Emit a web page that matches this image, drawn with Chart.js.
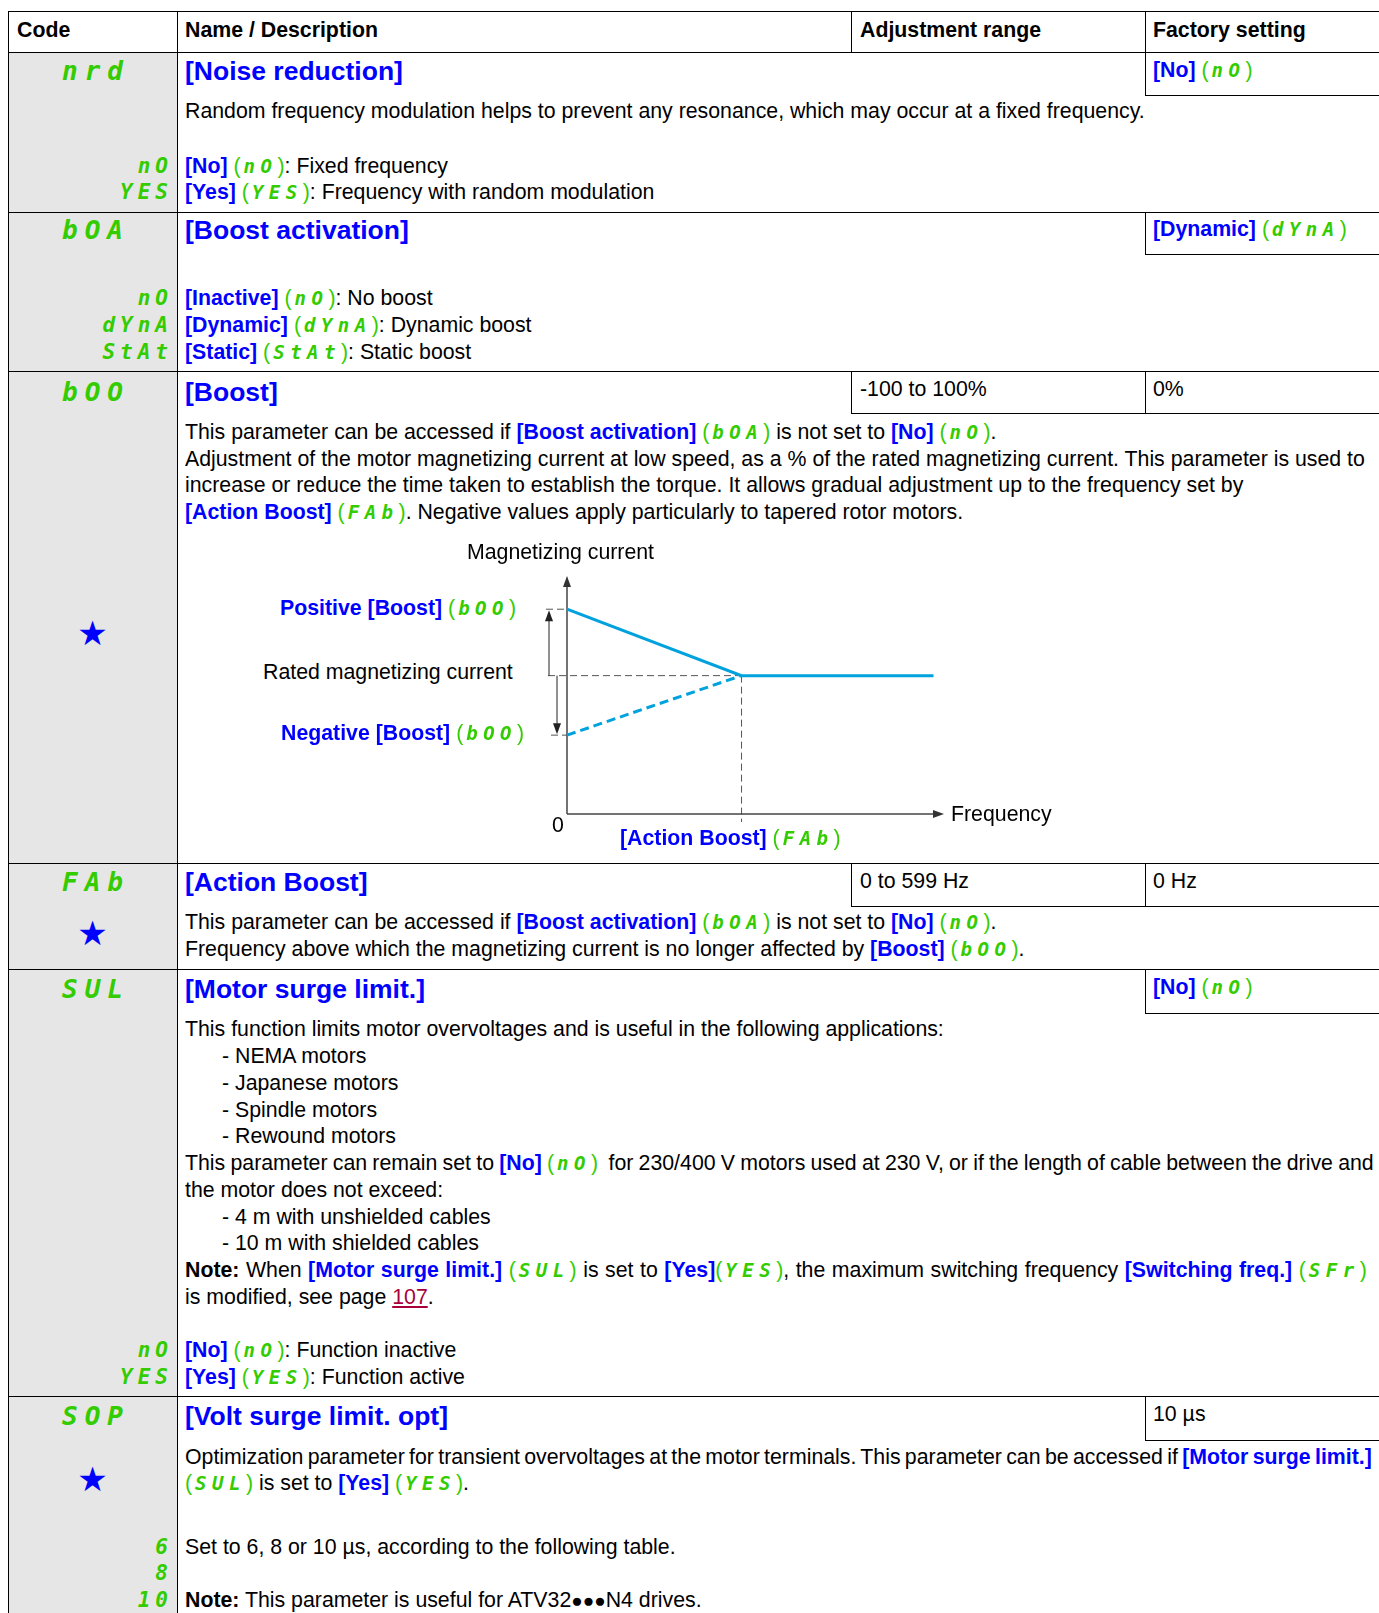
<!DOCTYPE html>
<html>
<head>
<meta charset="utf-8">
<title>Boost parameters</title>
<script src="https://cdn.jsdelivr.net/npm/chart.js@4.4.1/dist/chart.umd.min.js"></script>
<style>
body { margin: 0; background: #fff; }
#page { position: relative; width: 1379px; height: 1613px; overflow: hidden;
  font-family: "Liberation Sans", Arial, sans-serif; font-size: 21.3px; color: #000; }
.gray { position: absolute; left: 8px; top: 52px; width: 169px; height: 1561px; background: #e6e6e6; }
.h { position: absolute; height: 1px; background: #000; }
.v { position: absolute; width: 1px; background: #000; }
.t { position: absolute; white-space: nowrap; line-height: 26px; }
.hd { position: absolute; left: 185px; white-space: nowrap; line-height: 30px; font-size: 26.5px; font-weight: bold; color: #00f; }
.th { font-weight: bold; }
.b { color: #00f; font-weight: bold; }
.g { color: #33cc00; }
.g i, .code, .sub { font-family: "DejaVu Sans Mono", monospace; font-style: oblique; font-weight: bold; }
.g i { font-size: 19px; letter-spacing: 5.5px; padding-left: 3px; }
.code { position: absolute; left: 8px; width: 169px; text-align: center; color: #33cc00; font-size: 26px; line-height: 30px; letter-spacing: 7px; text-indent: 7px; }
.sub { position: absolute; left: 8px; width: 165px; text-align: right; color: #33cc00; font-size: 21px; line-height: 26px; letter-spacing: 5px; }
.star { position: absolute; left: 8px; width: 169px; text-align: center; color: #00f; font-family: "DejaVu Sans", sans-serif; font-size: 34px; line-height: 34px; }
.lnk { color: #a8003c; text-decoration: underline; }
.dots { font-size: 19px; }
#chartBox { position: absolute; left: 520px; top: 560px; width: 460px; height: 270px; }
</style>
</head>
<body>
<div id="page">
  <div class="gray"></div>

  <!-- table lines -->
  <div class="h" style="left:8px;top:11px;width:1371px"></div>
  <div class="h" style="left:8px;top:52px;width:1371px"></div>
  <div class="h" style="left:8px;top:212px;width:1371px"></div>
  <div class="h" style="left:8px;top:371px;width:1371px"></div>
  <div class="h" style="left:8px;top:863px;width:1371px"></div>
  <div class="h" style="left:8px;top:969px;width:1371px"></div>
  <div class="h" style="left:8px;top:1396px;width:1371px"></div>
  <div class="v" style="left:8px;top:11px;height:1602px"></div>
  <div class="v" style="left:177px;top:11px;height:1602px"></div>
  <div class="v" style="left:851px;top:11px;height:41px"></div>
  <div class="v" style="left:1145px;top:11px;height:41px"></div>
  <!-- value boxes -->
  <div class="v" style="left:1145px;top:52px;height:43px"></div>
  <div class="h" style="left:1145px;top:95px;width:234px"></div>
  <div class="v" style="left:1145px;top:212px;height:42px"></div>
  <div class="h" style="left:1145px;top:254px;width:234px"></div>
  <div class="v" style="left:851px;top:371px;height:42px"></div>
  <div class="v" style="left:1145px;top:371px;height:42px"></div>
  <div class="h" style="left:851px;top:413px;width:528px"></div>
  <div class="v" style="left:851px;top:863px;height:43px"></div>
  <div class="v" style="left:1145px;top:863px;height:43px"></div>
  <div class="h" style="left:851px;top:906px;width:528px"></div>
  <div class="v" style="left:1145px;top:969px;height:44px"></div>
  <div class="h" style="left:1145px;top:1013px;width:234px"></div>
  <div class="v" style="left:1145px;top:1396px;height:44px"></div>
  <div class="h" style="left:1145px;top:1440px;width:234px"></div>

  <!-- header -->
  <div class="t th" style="left:17px;top:17px">Code</div>
  <div class="t th" style="left:185px;top:17px">Name / Description</div>
  <div class="t th" style="left:860px;top:17px">Adjustment range</div>
  <div class="t th" style="left:1153px;top:17px">Factory setting</div>

  <!-- nrd -->
  <div class="code" style="top:56px">nrd</div>
  <div class="hd" style="top:56px">[Noise reduction]</div>
  <div class="t" style="left:1153px;top:57px"><span class="b">[No]</span> <span class="g">(<i>nO</i>)</span></div>
  <div class="t" style="left:185px;top:98px">Random frequency modulation helps to prevent any resonance, which may occur at a fixed frequency.</div>
  <div class="sub" style="top:153px">nO</div>
  <div class="t" style="left:185px;top:153px"><span class="b">[No]</span> <span class="g">(<i>nO</i>)</span>: Fixed frequency</div>
  <div class="sub" style="top:179px">YES</div>
  <div class="t" style="left:185px;top:179px"><span class="b">[Yes]</span> <span class="g">(<i>YES</i>)</span>: Frequency with random modulation</div>

  <!-- bOA -->
  <div class="code" style="top:215px">bOA</div>
  <div class="hd" style="top:215px">[Boost activation]</div>
  <div class="t" style="left:1153px;top:216px"><span class="b">[Dynamic]</span> <span class="g">(<i>dYnA</i>)</span></div>
  <div class="sub" style="top:285px">nO</div>
  <div class="t" style="left:185px;top:285px"><span class="b">[Inactive]</span> <span class="g">(<i>nO</i>)</span>: No boost</div>
  <div class="sub" style="top:312px">dYnA</div>
  <div class="t" style="left:185px;top:312px"><span class="b">[Dynamic]</span> <span class="g">(<i>dYnA</i>)</span>: Dynamic boost</div>
  <div class="sub" style="top:339px">StAt</div>
  <div class="t" style="left:185px;top:339px"><span class="b">[Static]</span> <span class="g">(<i>StAt</i>)</span>: Static boost</div>

  <!-- bOO -->
  <div class="code" style="top:377px">bOO</div>
  <div class="hd" style="top:377px">[Boost]</div>
  <div class="t" style="left:860px;top:376px">-100 to 100%</div>
  <div class="t" style="left:1153px;top:376px">0%</div>
  <div class="t" style="left:185px;top:419px">This parameter can be accessed if <span class="b">[Boost activation]</span> <span class="g">(<i>bOA</i>)</span> is not set to <span class="b">[No]</span> <span class="g">(<i>nO</i>)</span>.</div>
  <div class="t" style="left:185px;top:446px">Adjustment of the motor magnetizing current at low speed, as a % of the rated magnetizing current. This parameter is used to</div>
  <div class="t" style="left:185px;top:472px">increase or reduce the time taken to establish the torque. It allows gradual adjustment up to the frequency set by</div>
  <div class="t" style="left:185px;top:499px"><span class="b">[Action Boost]</span> <span class="g">(<i>FAb</i>)</span>. Negative values apply particularly to tapered rotor motors.</div>
  <div class="star" style="top:616px">★</div>

  <div id="chartBox"><canvas id="boostChart"></canvas></div>
  <div class="t" style="left:467px;top:539px">Magnetizing current</div>
  <div class="t" style="left:280px;top:595px"><span class="b">Positive [Boost]</span> <span class="g">(<i>bOO</i>)</span></div>
  <div class="t" style="left:263px;top:659px">Rated magnetizing current</div>
  <div class="t" style="left:281px;top:720px"><span class="b">Negative [Boost]</span> <span class="g">(<i>bOO</i>)</span></div>
  <div class="t" style="left:552px;top:812px">0</div>
  <div class="t" style="left:951px;top:801px">Frequency</div>
  <div class="t" style="left:620px;top:825px"><span class="b">[Action Boost]</span> <span class="g">(<i>FAb</i>)</span></div>

  <!-- FAb -->
  <div class="code" style="top:867px">FAb</div>
  <div class="hd" style="top:867px">[Action Boost]</div>
  <div class="t" style="left:860px;top:868px">0 to 599 Hz</div>
  <div class="t" style="left:1153px;top:868px">0 Hz</div>
  <div class="t" style="left:185px;top:909px">This parameter can be accessed if <span class="b">[Boost activation]</span> <span class="g">(<i>bOA</i>)</span> is not set to <span class="b">[No]</span> <span class="g">(<i>nO</i>)</span>.</div>
  <div class="t" style="left:185px;top:936px">Frequency above which the magnetizing current is no longer affected by <span class="b">[Boost]</span> <span class="g">(<i>bOO</i>)</span>.</div>
  <div class="star" style="top:916px">★</div>

  <!-- SUL -->
  <div class="code" style="top:974px">SUL</div>
  <div class="hd" style="top:974px">[Motor surge limit.]</div>
  <div class="t" style="left:1153px;top:974px"><span class="b">[No]</span> <span class="g">(<i>nO</i>)</span></div>
  <div class="t" style="left:185px;top:1016px">This function limits motor overvoltages and is useful in the following applications:</div>
  <div class="t" style="left:222px;top:1043px">- NEMA motors</div>
  <div class="t" style="left:222px;top:1070px">- Japanese motors</div>
  <div class="t" style="left:222px;top:1097px">- Spindle motors</div>
  <div class="t" style="left:222px;top:1123px">- Rewound motors</div>
  <div class="t" style="left:185px;top:1150px;word-spacing:-0.7px">This parameter can remain set to <span class="b">[No]</span> <span class="g">(<i>nO</i>)</span>&nbsp; for 230/400 V motors used at 230 V, or if the length of cable between the drive and</div>
  <div class="t" style="left:185px;top:1177px">the motor does not exceed:</div>
  <div class="t" style="left:222px;top:1204px">- 4 m with unshielded cables</div>
  <div class="t" style="left:222px;top:1230px">- 10 m with shielded cables</div>
  <div class="t" style="left:185px;top:1257px;word-spacing:0.6px"><b>Note:</b> When <span class="b">[Motor surge limit.]</span> <span class="g">(<i>SUL</i>)</span> is set to <span class="b">[Yes]</span><span class="g">(<i>YES</i>)</span>, the maximum switching frequency <span class="b">[Switching freq.]</span> <span class="g">(<i>SFr</i>)</span></div>
  <div class="t" style="left:185px;top:1284px">is modified, see page <span class="lnk">107</span>.</div>
  <div class="sub" style="top:1337px">nO</div>
  <div class="t" style="left:185px;top:1337px"><span class="b">[No]</span> <span class="g">(<i>nO</i>)</span>: Function inactive</div>
  <div class="sub" style="top:1364px">YES</div>
  <div class="t" style="left:185px;top:1364px"><span class="b">[Yes]</span> <span class="g">(<i>YES</i>)</span>: Function active</div>

  <!-- SOP -->
  <div class="code" style="top:1401px">SOP</div>
  <div class="hd" style="top:1401px">[Volt surge limit. opt]</div>
  <div class="t" style="left:1153px;top:1401px">10 µs</div>
  <div class="t" style="left:185px;top:1444px;word-spacing:-1.6px">Optimization parameter for transient overvoltages at the motor terminals. This parameter can be accessed if <span class="b">[Motor surge limit.]</span></div>
  <div class="t" style="left:185px;top:1470px"><span class="g">(<i>SUL</i>)</span> is set to <span class="b">[Yes]</span> <span class="g">(<i>YES</i>)</span>.</div>
  <div class="star" style="top:1462px">★</div>
  <div class="sub" style="top:1534px">6</div>
  <div class="t" style="left:185px;top:1534px">Set to 6, 8 or 10 µs, according to the following table.</div>
  <div class="sub" style="top:1560px">8</div>
  <div class="sub" style="top:1587px">10</div>
  <div class="t" style="left:185px;top:1587px"><b>Note:</b> This parameter is useful for ATV32<span class="dots">●●●</span>N4 drives.</div>
</div>

<script>
// magnetizing current vs frequency (rated current = 100)
const freq = [0, 50, 105];
const posBoost = [148, 100, 100];
const negFreq = [0, 50];
const negBoost = [57, 100];
const ratedCurrent = 100;
const actionBoost = 50;
const freqMax = 108;
const currentMax = 172;

const lineBlue = '#00a2de';

function toPoints(xs, ys) {
    return xs.map(function (v, i) { return { x: v, y: ys[i] }; });
}

function arrowHead(ctx, x, y, dir) {
    // dir: 'up', 'down', 'right'
    ctx.beginPath();
    if (dir === 'up') {
        ctx.moveTo(x, y); ctx.lineTo(x - 4, y + 11); ctx.lineTo(x + 4, y + 11);
    } else if (dir === 'down') {
        ctx.moveTo(x, y); ctx.lineTo(x - 4, y - 11); ctx.lineTo(x + 4, y - 11);
    } else {
        ctx.moveTo(x, y); ctx.lineTo(x - 11, y - 4); ctx.lineTo(x - 11, y + 4);
    }
    ctx.closePath();
    ctx.fill();
}

const boostGuides = {
    id: 'boostGuides',
    beforeDatasetsDraw(chart) {
        const {ctx, scales: {x, y}} = chart;
        const x0 = x.getPixelForValue(0);
        const y0 = y.getPixelForValue(0);
        const xEnd = x.getPixelForValue(freqMax);
        const yTop = y.getPixelForValue(currentMax);
        const xF = x.getPixelForValue(actionBoost);
        const yR = y.getPixelForValue(ratedCurrent);
        const yP = y.getPixelForValue(posBoost[0]);
        const yN = y.getPixelForValue(negBoost[0]);

        function seg(ax, ay, bx, by) {
            ctx.beginPath(); ctx.moveTo(ax, ay); ctx.lineTo(bx, by); ctx.stroke();
        }

        ctx.save();
        // dashed guide lines
        ctx.strokeStyle = '#555';
        ctx.lineWidth = 1;
        ctx.setLineDash([7, 4]);
        seg(x0 - 19, yR, xF, yR);
        seg(xF, yR, xF, y0 + 8);
        seg(x0 - 21, yP, x0, yP);
        seg(x0 - 16, yN, x0, yN);
        ctx.setLineDash([]);

        // boost range arrows
        ctx.strokeStyle = '#222';
        ctx.fillStyle = '#222';
        seg(x0 - 18, yR, x0 - 18, yP + 10);
        arrowHead(ctx, x0 - 18, yP + 1, 'up');
        seg(x0 - 10, yR, x0 - 10, yN - 10);
        arrowHead(ctx, x0 - 10, yN - 1, 'down');

        // axes
        ctx.strokeStyle = '#444';
        ctx.fillStyle = '#333';
        ctx.lineWidth = 1.5;
        seg(x0, y0, x0, yTop + 10);
        arrowHead(ctx, x0, yTop, 'up');
        seg(x0, y0, xEnd - 10, y0);
        arrowHead(ctx, xEnd, y0, 'right');
        ctx.restore();
    }
};

const data = {
    datasets: [{
        label: 'Positive Boost',
        data: toPoints(freq, posBoost),
        borderColor: lineBlue,
        borderWidth: 3,
        pointRadius: 0,
        tension: 0,
        clip: false
    }, {
        label: 'Negative Boost',
        data: toPoints(negFreq, negBoost),
        borderColor: lineBlue,
        borderWidth: 3,
        borderDash: [9, 5],
        pointRadius: 0,
        tension: 0,
        clip: false
    }]
};

const config = {
    type: 'line',
    data,
    options: {
        responsive: true,
        maintainAspectRatio: false,
        animation: false,
        layout: {
            padding: { left: 47, right: 36, top: 16, bottom: 16 }
        },
        scales: {
            x: { type: 'linear', min: 0, max: freqMax, display: false },
            y: { type: 'linear', min: 0, max: currentMax, display: false }
        },
        plugins: {
            legend: { display: false },
            tooltip: { enabled: false }
        }
    },
    plugins: [boostGuides]
};

const boostChart = new Chart(document.getElementById('boostChart'), config);
</script>
</body>
</html>
